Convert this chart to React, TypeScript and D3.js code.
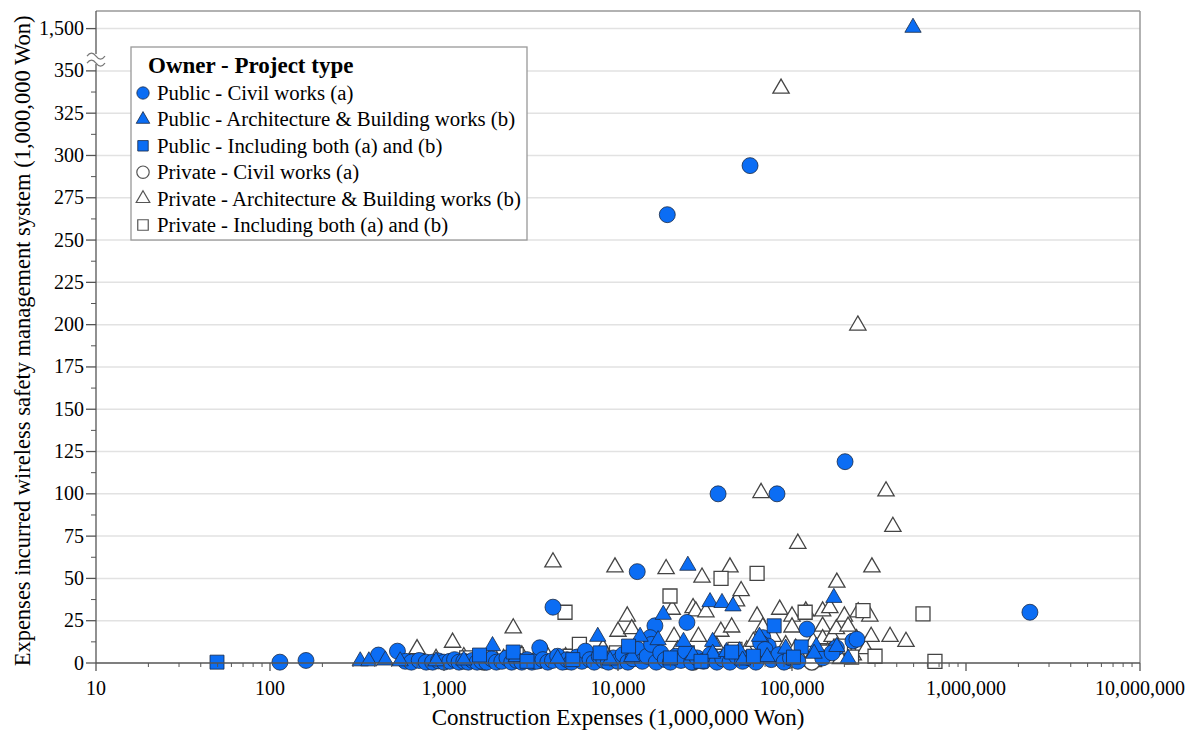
import React from 'react';
import * as d3 from 'd3';

// [construction expenses, wireless system expenses] in 1,000,000 Won
const pubCivil = [
  [19200, 265], [57400, 294], [201800, 119], [37600, 100], [82000, 100], [12900, 54],
  [4230, 33], [24900, 24], [2330000, 30], [122000, 20], [224000, 13], [236000, 14],
  [16300, 22], [15300, 15], [114, 0.5], [161, 1.5], [68000, 15], [73000, 10], [180000, 9],
  [420, 4.7], [540, 7], [600, 1], [650, 0.5], [720, 1.5], [790, 0.5], [860, 0.5], [930, 1.2],
  [1000, 0.5], [1080, 1], [1150, 2], [1220, 0.5], [1300, 1], [1380, 0.5], [1460, 1.5],
  [1550, 0.5], [1650, 1], [1760, 0.5], [1880, 2.5], [2000, 0.5], [2150, 1], [2300, 3],
  [2450, 0.5], [2620, 1.5], [2800, 0.5], [3000, 2], [3200, 0.5], [3400, 1], [3550, 9],
  [3700, 2], [3950, 0.5], [4200, 1.5], [4500, 4], [4800, 0.5], [5100, 2], [5400, 0.5],
  [5800, 3.5], [6200, 1], [6500, 7], [6900, 2], [7300, 0.5], [7800, 4], [8300, 1.5],
  [8800, 0.5], [9400, 3], [10000, 1], [10700, 5], [11400, 0.5], [12200, 2.5], [13000, 8],
  [13800, 1], [14700, 4], [15600, 11], [16600, 0.5], [17600, 6], [18700, 2], [20000, 0.5],
  [21500, 4], [23000, 1.5], [24500, 7], [26500, 0.5], [28500, 3], [31000, 1], [34000, 5],
  [37000, 0.5], [40000, 2.5], [44000, 0.5], [48000, 4], [52000, 1], [57000, 3], [62000, 0.5],
  [66000, 12], [70000, 8], [76000, 2], [84000, 5], [90000, 0.5], [98000, 3], [108000, 1],
  [150000, 3], [170000, 6],
];
const pubArch = [
  [496000, 1500], [25200, 57], [33800, 35.5], [39600, 35], [45800, 33], [18200, 28],
  [174000, 38], [330, 0.5], [370, 0.5], [460, 1], [560, 0.5], [900, 0.5], [1300, 1],
  [1900, 9.5], [2600, 3], [4500, 2], [7650, 15], [9000, 1], [12000, 3], [13400, 15],
  [17000, 13], [23800, 12], [27000, 4], [35000, 12], [35000, 5], [42000, 6], [50000, 6.5],
  [52000, 1], [65000, 15], [72000, 3], [92000, 8], [138000, 9], [134000, 5], [181000, 9],
  [210000, 2],
];
const pubBoth = [
  [49.6, 0.5], [1600, 4.7], [2500, 6.5], [7900, 6], [11500, 10], [45000, 6.5], [79000, 22],
  [113000, 9.5], [102000, 3.5], [3000, 1], [5500, 2], [20000, 3], [30000, 1], [60000, 4],
];
const privCivil = [
  [1700, 0.5], [5000, 1], [27000, 0.5], [95000, 1.5], [130000, 0.5],
];
const privArch = [
  [86500, 339], [239000, 199], [347000, 101], [380000, 80], [108000, 70], [66400, 100],
  [4230, 59], [9610, 56], [18900, 55], [44000, 56], [288000, 56], [181000, 47], [30400, 50],
  [366000, 15], [452000, 12],
  [700, 7.7], [900, 2], [1120, 11.5], [1300, 3], [1600, 1], [1900, 5], [2200, 2], [2500, 20],
  [2800, 4], [3300, 1], [3800, 6], [4300, 2], [5000, 3], [6000, 5], [7000, 1], [8200, 8],
  [9000, 3], [10000, 18], [11300, 27], [12000, 19.5], [11000, 6], [13500, 2], [15000, 9],
  [17000, 4], [20500, 31], [21000, 15], [22000, 7], [24000, 2], [27000, 32], [28000, 30],
  [29000, 15], [32000, 29.5], [34000, 5], [37000, 9], [39000, 18], [42000, 3], [45000, 20.5],
  [48000, 36], [51000, 42], [55000, 7], [60000, 12], [63000, 27], [68000, 20.5], [72000, 4],
  [78000, 15], [85000, 31], [92000, 10], [100000, 27], [100000, 20.5], [105000, 8],
  [112000, 2], [120000, 30], [125000, 0.5], [132000, 12], [145000, 1.8], [150000, 30],
  [150000, 21], [150000, 13.6], [160000, 6], [165000, 32], [170000, 15], [180000, 19.5],
  [190000, 1.8], [200000, 27], [210000, 21], [225000, 4], [235000, 13.6], [240000, 29.5],
  [265000, 7.7], [280000, 27], [285000, 15],
];
const privBoth = [
  [4960, 30], [19900, 39.6], [39100, 50], [63000, 53], [119000, 30], [256000, 31],
  [566000, 29], [663000, 1], [220000, 3.5], [155000, 6.5], [1350, 3], [2600, 5], [3300, 1],
  [5300, 4], [6000, 11], [7200, 2], [9800, 6], [14000, 3], [25000, 6], [29000, 2], [36000, 4],
  [47000, 8], [58000, 3], [88000, 5], [135000, 2], [190000, 10], [300000, 4],
];

const xTicks = [10, 100, 1000, 10000, 100000, 1000000, 10000000];
const yTicks = [0, 25, 50, 75, 100, 125, 150, 175, 200, 225, 250, 275, 300, 325, 350, 1500];
const legendItems = [
  'Public - Civil works (a)',
  'Public - Architecture & Building works (b)',
  'Public - Including both (a) and (b)',
  'Private - Civil works (a)',
  'Private - Architecture & Building works (b)',
  'Private - Including both (a) and (b)',
];

const W = 1195;
const H = 731;
const left = 96;
const right = 1140;
const top = 11;
const bottom = 663;
const BLUE = '#0b6df4';
const font = '"Liberation Serif", "Times New Roman", serif';

const x = d3.scaleLog().domain([10, 10000000]).range([left, right]);
const yLin = d3.scaleLinear().domain([0, 385.4]).range([bottom, top]);
// broken axis: everything above the break is shifted down by 1125
const y = (v) => yLin(v <= 362.5 ? v : v >= 1487.5 ? v - 1125 : 362.5);

const shapes = [d3.symbolCircle, d3.symbolTriangle, d3.symbolSquare];
const sizes = [200, 115, 196];

const series = [
  { data: privArch, shape: 1, fill: '#fff', stroke: '#444' },
  { data: privBoth, shape: 2, fill: '#fff', stroke: '#444' },
  { data: privCivil, shape: 0, fill: '#fff', stroke: '#444' },
  { data: pubCivil, shape: 0, fill: BLUE, stroke: '#1a2a44' },
  { data: pubArch, shape: 1, fill: BLUE, stroke: '#1a2a44' },
  { data: pubBoth, shape: 2, fill: BLUE, stroke: '#1a2a44' },
];
const legendStyle = [
  [0, BLUE, '#1a2a44'], [1, BLUE, '#1a2a44'], [2, BLUE, '#1a2a44'],
  [0, '#fff', '#555'], [1, '#fff', '#555'], [2, '#fff', '#555'],
];

const fmt = d3.format(',');

export default function App() {
  const minor = [];
  for (let e = 1; e < 7; e++) for (let m = 2; m < 10; m++) minor.push(m * 10 ** e);
  const yMinor = d3.range(12.5, 350, 25);
  const yBreak = yLin(357);

  return (
    <svg width={W} height={H} style={{ position: 'absolute', left: 0, top: 0, background: '#fff' }} fontFamily={font}>
      {/* gridlines */}
      {yTicks.filter(t => t > 0).map(t => (
        <line key={t} x1={left} x2={right} y1={y(t)} y2={y(t)} stroke="#e2e2e2" strokeWidth={1.5} />
      ))}
      {/* frame */}
      <line x1={left} x2={right} y1={top} y2={top} stroke="#999" strokeWidth={1.5} />
      <line x1={right} x2={right} y1={top} y2={bottom} stroke="#999" strokeWidth={1.5} />

      {/* markers */}
      {series.map((s, i) => (
        <g key={i}>
          {s.data.map((d, j) => (
            <path key={j}
              d={d3.symbol().type(shapes[s.shape]).size(sizes[s.shape])()}
              transform={`translate(${x(d[0])},${y(d[1]) - (s.shape === 1 ? 1 : 0)})`}
              fill={s.fill} stroke={s.stroke} strokeWidth={s.fill === BLUE ? 0.8 : 1.3} />
          ))}
        </g>
      ))}

      {/* x axis */}
      <line x1={left} x2={right} y1={bottom} y2={bottom} stroke="#555" strokeWidth={1.3} />
      {minor.map(t => (
        <line key={t} x1={x(t)} x2={x(t)} y1={bottom} y2={bottom + 4} stroke="#555" />
      ))}
      {xTicks.map(t => (
        <g key={t}>
          <line x1={x(t)} x2={x(t)} y1={bottom} y2={bottom + 8} stroke="#555" strokeWidth={1.3} />
          <text x={x(t)} y={bottom + 32} textAnchor="middle" fontSize={20}>{fmt(t)}</text>
        </g>
      ))}
      <text x={(left + right) / 2} y={725} textAnchor="middle" fontSize={23}>Construction Expenses (1,000,000 Won)</text>

      {/* y axis */}
      <line x1={left} x2={left} y1={top} y2={bottom} stroke="#555" strokeWidth={1.3} />
      {yMinor.map(t => (
        <line key={t} x1={left - 5} x2={left} y1={y(t)} y2={y(t)} stroke="#555" />
      ))}
      {yTicks.map(t => (
        <g key={t}>
          <line x1={left - 10} x2={left} y1={y(t)} y2={y(t)} stroke="#555" strokeWidth={1.3} />
          <text x={left - 12} y={y(t) + 6.5} textAnchor="end" fontSize={20}>{fmt(t)}</text>
        </g>
      ))}
      {/* axis break */}
      <rect x={left - 8} y={yBreak - 5} width={16} height={10} fill="#fff" />
      <path d={`M${left - 9},${yBreak - 3} q4.5,-6 9,0 t9,0`} fill="none" stroke="#777" strokeWidth={1.2} />
      <path d={`M${left - 9},${yBreak + 4} q4.5,-6 9,0 t9,0`} fill="none" stroke="#777" strokeWidth={1.2} />
      <text transform={`translate(30,341) rotate(-90)`} textAnchor="middle" fontSize={22.5}>
        Expenses incurred wireless safety management system (1,000,000 Won)
      </text>

      {/* legend */}
      <g transform="translate(131,47)">
        <rect x={0} y={0} width={396} height={193} fill="#fff" stroke="#999" strokeWidth={1.3} />
        <text x={17} y={26} fontSize={23} fontWeight="bold">Owner - Project type</text>
        {legendItems.map((label, i) => {
          const [sh, fill, stroke] = legendStyle[i];
          const cy = 46 + i * 26.4;
          return (
            <g key={label}>
              <path d={d3.symbol().type(shapes[sh]).size(sh === 1 ? 80 : sh === 0 ? 120 : 110)()}
                transform={`translate(12,${cy})`} fill={fill} stroke={stroke} strokeWidth={fill === BLUE ? 0.8 : 1.2} />
              <text x={26} y={cy + 7} fontSize={20.8}>{label}</text>
            </g>
          );
        })}
      </g>
    </svg>
  );
}
